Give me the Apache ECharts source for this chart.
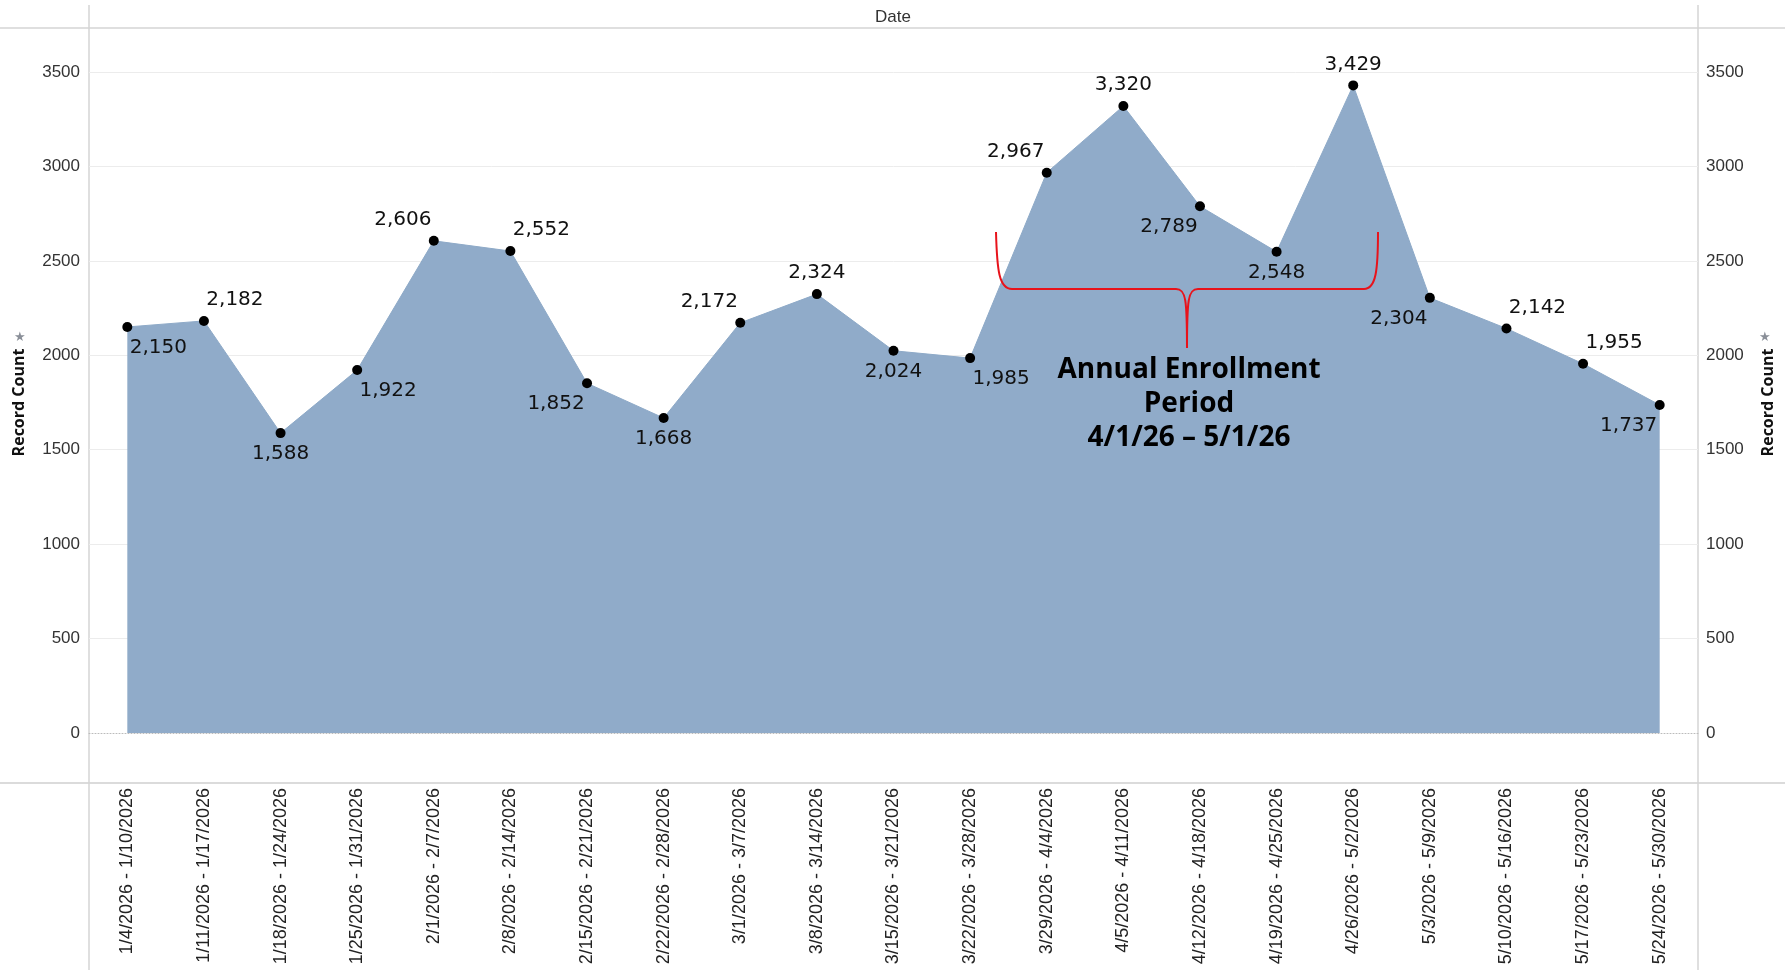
<!DOCTYPE html>
<html>
<head>
<meta charset="utf-8">
<script src="https://cdn.jsdelivr.net/npm/echarts@6/dist/echarts.min.js"></script>
<style>
  html, body { margin: 0; padding: 0; background: #fff; }
  #chart { width: 1785px; height: 970px; }
</style>
</head>
<body>
<div id="chart"></div>
<script>
// weekly buckets
const weeks = [
  '1/4/2026 - 1/10/2026', '1/11/2026 - 1/17/2026', '1/18/2026 - 1/24/2026',
  '1/25/2026 - 1/31/2026', '2/1/2026 - 2/7/2026', '2/8/2026 - 2/14/2026',
  '2/15/2026 - 2/21/2026', '2/22/2026 - 2/28/2026', '3/1/2026 - 3/7/2026',
  '3/8/2026 - 3/14/2026', '3/15/2026 - 3/21/2026', '3/22/2026 - 3/28/2026',
  '3/29/2026 - 4/4/2026', '4/5/2026 - 4/11/2026', '4/12/2026 - 4/18/2026',
  '4/19/2026 - 4/25/2026', '4/26/2026 - 5/2/2026', '5/3/2026 - 5/9/2026',
  '5/10/2026 - 5/16/2026', '5/17/2026 - 5/23/2026', '5/24/2026 - 5/30/2026'
]
const recordCount = [2150, 2182, 1588, 1922, 2606, 2552, 1852, 1668, 2172, 2324, 2024,
  1985, 2967, 3320, 2789, 2548, 3429, 2304, 2142, 1955, 1737]
const yTicks = [0, 500, 1000, 1500, 2000, 2500, 3000, 3500]

// where each value label sits relative to its dot
const labelSide = ['br', 'tr', 'b', 'br', 'tl', 'tr', 'bl', 'b', 'tl', 't', 'b',
  'br', 'tl', 't', 'bl', 'b', 't', 'bl', 'tr', 'tr', 'bl']
const sideOffset = {
  t: [0, -21], b: [0, 21], tr: [31, -21], tl: [-31, -21], br: [31, 21], bl: [-31, 21]
}

const chart = echarts.init(document.getElementById('chart'))

const fmt = v => v.toLocaleString('en-US')

const axisLabelStyle = {
  color: '#333',
  fontSize: 17,
  fontFamily: 'Liberation Sans, Arial, sans-serif'
}

const yAxisCommon = {
  type: 'value',
  min: yTicks[0],
  max: yTicks[yTicks.length - 1],
  interval: 500,
  axisLine: {show: false},
  axisTick: {show: false},
  name: 'Record Count',
  nameLocation: 'middle',
  nameRotate: 90,
  nameTextStyle: {
    color: '#111',
    fontSize: 16,
    fontWeight: 'bold',
    fontFamily: 'Open Sans, sans-serif'
  }
}

const brace = {stroke: '#e8131b', lineWidth: 2, fill: 'none'}
const seg = (type, shape) => ({type: type, shape: shape, style: brace, silent: true, z: 10})

chart.setOption({
  animation: false,
  backgroundColor: '#fff',
  grid: {left: 89, right: 87, top: 72, bottom: 237},
  xAxis: {
    type: 'category',
    data: weeks,
    boundaryGap: true,
    axisLine: {show: true, lineStyle: {color: '#bbb', type: [1, 2], width: 1}},
    axisTick: {show: false},
    axisLabel: Object.assign({rotate: 90, margin: 55, interval: 0}, axisLabelStyle, {color: '#222', fontSize: 18})
  },
  yAxis: [
    Object.assign({}, yAxisCommon, {
      position: 'left',
      nameGap: 62,
      splitLine: {show: true, showMinLine: false, lineStyle: {color: '#ececec', width: 1}},
      axisLabel: Object.assign({margin: 9, formatter: v => String(v)}, axisLabelStyle)
    }),
    Object.assign({}, yAxisCommon, {
      position: 'right',
      nameGap: 62,
      splitLine: {show: false},
      axisLabel: Object.assign({margin: 8, formatter: v => String(v)}, axisLabelStyle)
    })
  ],
  series: [{
    type: 'line',
    yAxisIndex: 0,
    data: recordCount.map((v, i) => ({
      value: v,
      label: {offset: sideOffset[labelSide[i]]}
    })),
    symbol: 'circle',
    symbolSize: 10,
    itemStyle: {color: '#000'},
    lineStyle: {color: '#8eaac8', width: 1},
    areaStyle: {color: '#90abc9', opacity: 1},
    label: {
      show: true,
      position: 'inside',
      formatter: p => fmt(p.value),
      color: '#111',
      fontSize: 20,
      fontFamily: 'DejaVu Sans, sans-serif'
    },
    z: 3
  }],
  graphic: [
    // frame lines of the worksheet
    {type: 'line', shape: {x1: 0, y1: 28, x2: 1785, y2: 28}, style: {stroke: '#d4d4d4', lineWidth: 1.5}, silent: true},
    {type: 'line', shape: {x1: 0, y1: 783, x2: 1785, y2: 783}, style: {stroke: '#cfcfcf', lineWidth: 1.5}, silent: true},
    {type: 'line', shape: {x1: 89, y1: 5, x2: 89, y2: 970}, style: {stroke: '#d4d4d4', lineWidth: 1.5}, silent: true},
    {type: 'line', shape: {x1: 1698, y1: 5, x2: 1698, y2: 970}, style: {stroke: '#d4d4d4', lineWidth: 1.5}, silent: true},
    {
      type: 'text', x: 893, y: 17,
      style: {
        text: 'Date', fontSize: 17, fill: '#333', align: 'center', verticalAlign: 'middle',
        fontFamily: 'Liberation Sans, Arial, sans-serif'
      }
    },
    // pin glyphs beside the axis titles
    {type: 'text', x: 20, y: 337, style: {text: '\u2605', fontSize: 13, fill: '#8a8f98', align: 'center', verticalAlign: 'middle'}},
    {type: 'text', x: 1765, y: 337, style: {text: '\u2605', fontSize: 13, fill: '#8a8f98', align: 'center', verticalAlign: 'middle'}},
    // enrollment brace
    seg('bezierCurve', {x1: 996, y1: 232, cpx1: 997, cpy1: 270, cpx2: 999, cpy2: 289, x2: 1012, y2: 289}),
    seg('line', {x1: 1012, y1: 289, x2: 1176, y2: 289}),
    seg('bezierCurve', {x1: 1176, y1: 289, cpx1: 1186, cpy1: 289, cpx2: 1187, cpy2: 300, x2: 1187, y2: 348}),
    seg('bezierCurve', {x1: 1187, y1: 348, cpx1: 1187, cpy1: 300, cpx2: 1188, cpy2: 289, x2: 1198, y2: 289}),
    seg('line', {x1: 1198, y1: 289, x2: 1364, y2: 289}),
    seg('bezierCurve', {x1: 1364, y1: 289, cpx1: 1376, cpy1: 289, cpx2: 1378, cpy2: 270, x2: 1378, y2: 232}),
    {
      type: 'text',
      z: 10,
      x: 1189, y: 353,
      style: {
        text: 'Annual Enrollment\nPeriod\n4/1/26 \u2013 5/1/26',
        align: 'center',
        verticalAlign: 'top',
        fontSize: 28,
        lineHeight: 34,
        fontWeight: 'bold',
        fill: '#000',
        fontFamily: 'Open Sans, sans-serif'
      }
    }
  ]
})
</script>
</body>
</html>
